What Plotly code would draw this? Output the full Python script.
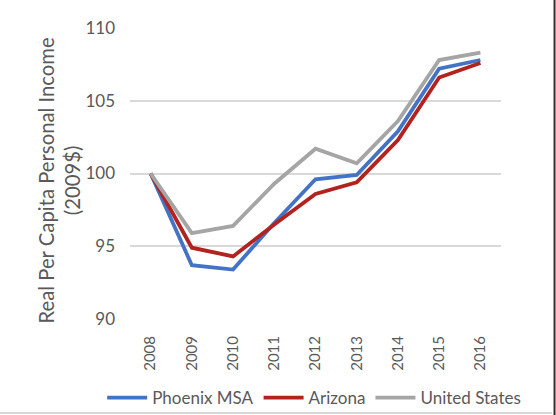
import plotly.graph_objects as go

years = ["2008", "2009", "2010", "2011", "2012", "2013", "2014", "2015", "2016"]
phoenix = [100.0, 93.7, 93.4, 96.6, 99.6, 99.9, 102.9, 107.2, 107.8]
arizona = [100.0, 94.9, 94.3, 96.5, 98.6, 99.4, 102.3, 106.6, 107.6]
united_states = [100.0, 95.9, 96.4, 99.3, 101.7, 100.7, 103.6, 107.8, 108.3]

series = [
    ("Phoenix MSA", phoenix, "#4472C4"),
    ("Arizona", arizona, "#B2221E"),
    ("United States", united_states, "#A5A5A5"),
]

fig = go.Figure()
for name, vals, color in series:
    fig.add_trace(go.Scatter(x=years, y=vals, name=name, mode="lines",
                             line=dict(color=color, width=3.8)))

font_family = "Lato, Open Sans, sans-serif"
fig.update_layout(
    width=556, height=415,
    margin=dict(l=130, r=55, t=28, b=96, autoexpand=False),
    paper_bgcolor="white", plot_bgcolor="white",
    font=dict(family=font_family, color="#595959", size=15),
    showlegend=True,
    legend=dict(orientation="h", x=-0.075, xanchor="left", y=-0.2715, yanchor="middle",
                font=dict(size=17, color="#595959"), itemwidth=40, tracegroupgap=0,
                bgcolor="rgba(0,0,0,0)"),
    xaxis=dict(type="category", range=[-0.5, 8.5], tickangle=-90, showgrid=False,
               zeroline=False, showline=False, ticks="", tickfont=dict(size=15),
               ticklabelstandoff=13, automargin=False),
    yaxis=dict(range=[90, 110], dtick=5, showgrid=True, gridcolor="#D9D9D9", gridwidth=1.5,
               zeroline=False, showline=False, ticks="", tickfont=dict(size=17),
               ticklabelstandoff=14, automargin=False),
)
fig.add_annotation(text="Real Per Capita Personal Income<br>(2009$)", xref="paper", yref="paper",
                   x=-0.192, y=0.475, xanchor="center", yanchor="middle", textangle=-90,
                   showarrow=False, font=dict(size=20.3, color="#595959"))
fig.add_shape(type="line", xref="paper", yref="paper", x0=-0.36, x1=1.138,
              y0=-0.323, y1=-0.323, line=dict(color="#C8C8C8", width=1.5))
fig.add_shape(type="line", xref="paper", yref="paper", x0=1.1443, x1=1.1443,
              y0=-0.33, y1=1.1, line=dict(color="#3A2A2A", width=2))
fig.write_html("out.html", config={"displayModeBar": False},
               post_script="document.body.style.margin='0';")
